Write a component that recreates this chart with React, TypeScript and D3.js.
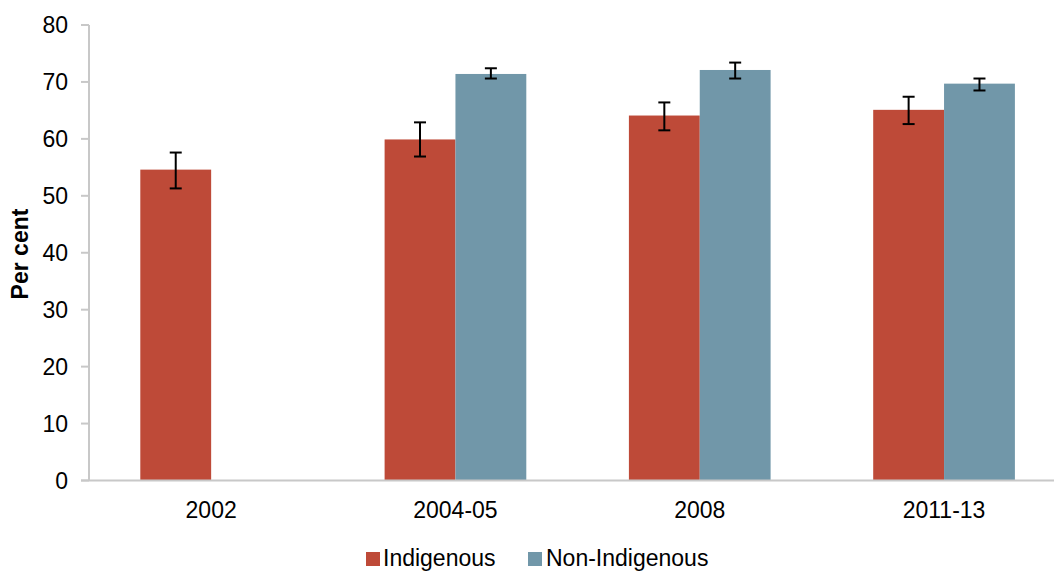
import React from "react";
import * as d3 from "d3";

const categories = ["2002", "2004-05", "2008", "2011-13"];
const seriesNames = ["Indigenous", "Non-Indigenous"];
const indigenous = [54.6, 59.9, 64.1, 65.1];
const nonIndigenous = [null, 71.4, 72.1, 69.7];
const indigenousLow = [51.3, 56.9, 61.5, 62.6];
const indigenousHigh = [57.6, 62.9, 66.4, 67.4];
const nonIndigenousLow = [null, 70.6, 70.6, 68.5];
const nonIndigenousHigh = [null, 72.4, 73.4, 70.6];
const yTicks = [0, 10, 20, 30, 40, 50, 60, 70, 80];
const colors = ["#BE4A38", "#7197A9"];

const W = 1054;
const H = 572;
const left = 89;
const top = 25;
const bottom = 480.5;

export default function App() {
  const y = d3.scaleLinear().domain([0, 80]).range([bottom, top]);
  const x = d3
    .scaleBand<string>()
    .domain(categories)
    .range([left, left + 4 * 244.3])
    .paddingInner(0.42)
    .paddingOuter(0.21);
  const xs = d3.scaleBand<string>().domain(seriesNames).range([0, x.bandwidth()]);

  const values = [indigenous, nonIndigenous];
  const lows = [indigenousLow, nonIndigenousLow];
  const highs = [indigenousHigh, nonIndigenousHigh];
  const font = "'Liberation Sans', Arial, sans-serif";

  return (
    <svg
      width={W}
      height={H}
      style={{ position: "absolute", left: 0, top: 0, background: "#fff" }}
      fontFamily={font}
    >
      {seriesNames.map((s, si) =>
        categories.map((c, ci) => {
          const v = values[si][ci];
          if (v == null) return null;
          const bx = (x(c) as number) + (xs(s) as number);
          return (
            <rect
              key={s + c}
              x={bx}
              y={y(v)}
              width={xs.bandwidth()}
              height={y(0) - y(v)}
              fill={colors[si]}
            />
          );
        })
      )}
      {seriesNames.map((s, si) =>
        categories.map((c, ci) => {
          const lo = lows[si][ci];
          const hi = highs[si][ci];
          if (lo == null || hi == null) return null;
          const cx = (x(c) as number) + (xs(s) as number) + xs.bandwidth() / 2;
          return (
            <g key={"e" + s + c} stroke="#000" strokeWidth={2}>
              <line x1={cx} x2={cx} y1={y(hi)} y2={y(lo)} />
              <line x1={cx - 6} x2={cx + 6} y1={y(hi)} y2={y(hi)} />
              <line x1={cx - 6} x2={cx + 6} y1={y(lo)} y2={y(lo)} />
            </g>
          );
        })
      )}
      <line x1={left} x2={left} y1={top} y2={bottom} stroke="#C8C8C8" strokeWidth={2} />
      <line x1={left - 8} x2={W} y1={bottom} y2={bottom} stroke="#C8C8C8" strokeWidth={2} />
      {yTicks.map((t) => (
        <g key={t}>
          <line x1={left - 8} x2={left} y1={y(t)} y2={y(t)} stroke="#C8C8C8" strokeWidth={2} />
          <text x={68} y={y(t)} dy="0.35em" textAnchor="end" fontSize={23} fill="#000">
            {t}
          </text>
        </g>
      ))}
      {categories.map((c) => (
        <text
          key={c}
          x={(x(c) as number) + x.bandwidth() / 2}
          y={518}
          textAnchor="middle"
          fontSize={23}
          fill="#000"
        >
          {c}
        </text>
      ))}
      <text
        transform={`translate(28,254) rotate(-90)`}
        textAnchor="middle"
        fontSize={23}
        fontWeight="bold"
        fill="#000"
      >
        Per cent
      </text>
      <rect x={366} y={552} width={14} height={14} fill={colors[0]} />
      <text x={383} y={566} fontSize={23} fill="#000">
        {seriesNames[0]}
      </text>
      <rect x={528} y={552} width={14} height={14} fill={colors[1]} />
      <text x={546} y={566} fontSize={23} fill="#000">
        {seriesNames[1]}
      </text>
    </svg>
  );
}
